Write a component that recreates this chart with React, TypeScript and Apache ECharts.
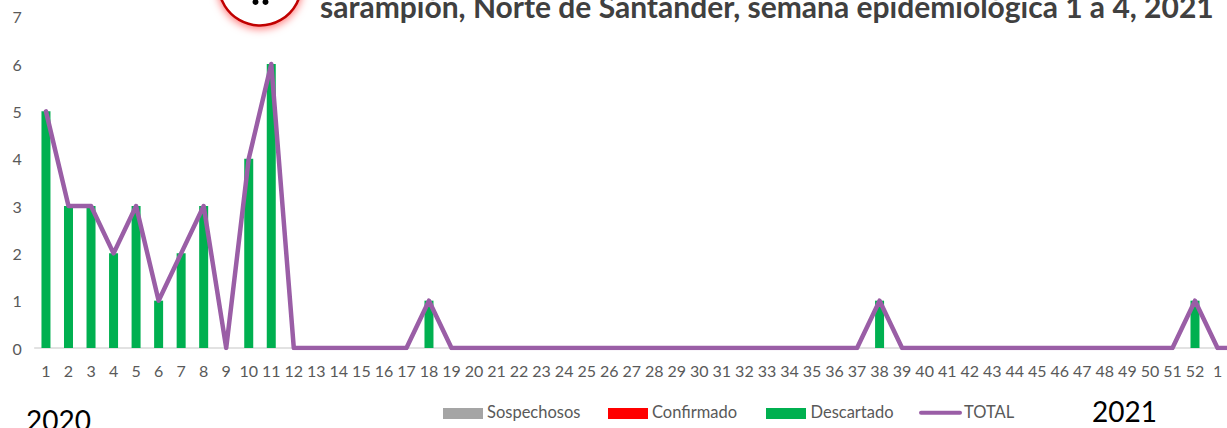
import React, { useEffect, useRef } from "react";
import * as echarts from "echarts";

const weeks2020 = Array.from({ length: 52 }, (_, i) => String(i + 1));
const weeks2021 = ["1", "2", "3", "4"];
const categories = [...weeks2020, ...weeks2021];
const sospechosos = [0,0,0,0,0,0,0,0,0,0,0,0,0,0,0,0,0,0,0,0,0,0,0,0,0,0,0,0,0,0,0,0,0,0,0,0,0,0,0,0,0,0,0,0,0,0,0,0,0,0,0,0,0,0,0,0];
const confirmado = [0,0,0,0,0,0,0,0,0,0,0,0,0,0,0,0,0,0,0,0,0,0,0,0,0,0,0,0,0,0,0,0,0,0,0,0,0,0,0,0,0,0,0,0,0,0,0,0,0,0,0,0,0,0,0,0];
const descartado = [5,3,3,2,3,1,2,3,0,4,6,0,0,0,0,0,0,1,0,0,0,0,0,0,0,0,0,0,0,0,0,0,0,0,0,0,0,1,0,0,0,0,0,0,0,0,0,0,0,0,0,1,0,0,0,0];
const total = [5,3,3,2,3,1,2,3,0,4,6,0,0,0,0,0,0,1,0,0,0,0,0,0,0,0,0,0,0,0,0,0,0,0,0,0,0,1,0,0,0,0,0,0,0,0,0,0,0,0,0,1,0,0,0,0];
const titleText = "sarampión, Norte de Santander, semana epidemiológica 1 a 4, 2021";

const FONT = "Lato";
const GREY = "#595959";

export default function App() {
  const ref = useRef<HTMLDivElement>(null);
  useEffect(() => {
    if (!ref.current) return;
    const chart = echarts.init(ref.current, undefined, { renderer: "svg" });
    const band = 22.53;
    const gridLeft = 34.7;
    const legendText = (x: number, t: string) => ({
      type: "text", x, y: 403.5,
      style: { text: t, fill: GREY, font: `16.5px ${FONT}` },
    });
    const swatch = (x: number, w: number, fill: string) => ({
      type: "rect", shape: { x, y: 408, width: w, height: 11 }, style: { fill },
    });
    chart.setOption({
      animation: false,
      grid: { left: gridLeft, width: band * categories.length, top: 16.7, height: 331.3 },
      xAxis: {
        type: "category", data: categories,
        axisTick: { show: false },
        axisLine: { lineStyle: { color: "#d9d9d9", width: 1.5 } },
        axisLabel: { interval: 0, color: GREY, fontFamily: FONT, fontSize: 16, margin: 14 },
      },
      yAxis: {
        type: "value", min: 0, max: 7, interval: 1,
        splitLine: { show: false },
        axisLine: { show: false }, axisTick: { show: false },
        axisLabel: { color: GREY, fontFamily: FONT, fontSize: 16, margin: 13 },
      },
      series: [
        { name: "Sospechosos", type: "bar", stack: "a", data: sospechosos, barWidth: 9, itemStyle: { color: "#a5a5a5" } },
        { name: "Confirmado", type: "bar", stack: "a", data: confirmado, barWidth: 9, itemStyle: { color: "#ff0000" } },
        { name: "Descartado", type: "bar", stack: "a", data: descartado, barWidth: 9, itemStyle: { color: "#00b050" } },
        { name: "TOTAL", type: "line", data: total, showSymbol: false, lineStyle: { color: "#9a5ea6", width: 4.5, cap: "round", join: "round" }, itemStyle: { color: "#9a5ea6" } },
      ],
      graphic: [
        { type: "circle", shape: { cx: 260, cy: -16, r: 41.5 }, style: { fill: "#fff", stroke: "#c00000", lineWidth: 2.5, shadowBlur: 9, shadowColor: "rgba(255,0,0,0.55)", shadowOffsetY: 2 } },
        { type: "circle", shape: { cx: 255.5, cy: 2, r: 3 }, style: { fill: "#000" } },
        { type: "circle", shape: { cx: 265.5, cy: 2, r: 3 }, style: { fill: "#000" } },
        { type: "text", x: 320, y: -9.5, style: { text: titleText, fill: "#404040", font: `bold 30px ${FONT}` } },
        { type: "text", x: 26, y: 405.5, style: { text: "2020", fill: "#000", font: `28px ${FONT}` } },
        { type: "text", x: 1092, y: 397, style: { text: "2021", fill: "#000", font: `28px ${FONT}` } },
        swatch(443, 40, "#a5a5a5"), legendText(487, "Sospechosos"),
        swatch(608, 40, "#ff0000"), legendText(652, "Confirmado"),
        swatch(766, 40, "#00b050"), legendText(810.5, "Descartado"),
        { type: "line", shape: { x1: 921, y1: 412.7, x2: 960, y2: 412.7 }, style: { stroke: "#9a5ea6", lineWidth: 4, lineCap: "round" } },
        legendText(964, "TOTAL"),
      ],
    });
    return () => chart.dispose();
  }, []);
  return (
    <div style={{ position: "absolute", left: 0, top: 0, width: 1227, height: 428, overflow: "hidden" }}>
      <div ref={ref} style={{ width: 1320, height: 428 }} />
    </div>
  );
}
